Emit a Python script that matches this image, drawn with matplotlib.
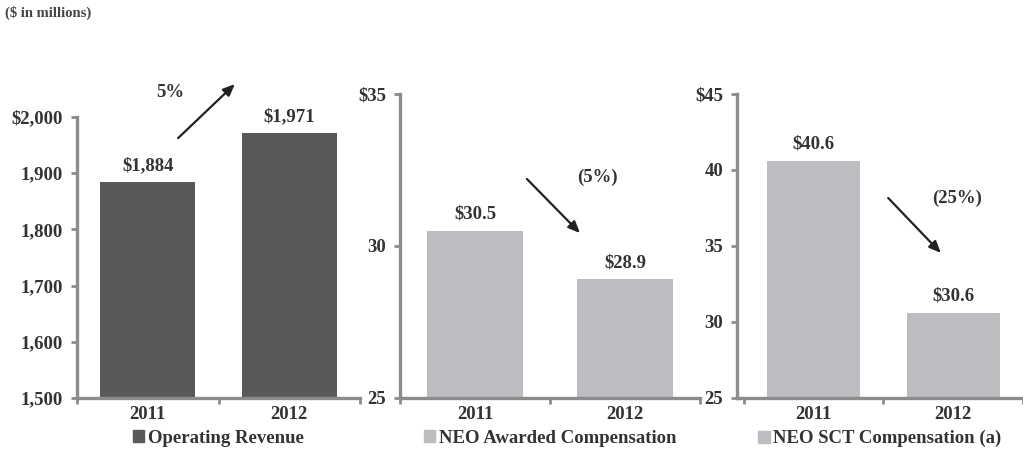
import matplotlib
matplotlib.use("Agg")
import matplotlib.pyplot as plt
from matplotlib.patches import Patch

# Data
years = ["2011", "2012"]
revenue = [1884, 1971]
awarded = [30.5, 28.9]
sct = [40.6, 30.6]

revenue_labels = ["$1,884", "$1,971"]
awarded_labels = ["$30.5", "$28.9"]
sct_labels = ["$40.6", "$30.6"]

revenue_ticks = [1500, 1600, 1700, 1800, 1900, 2000]
revenue_ticklabels = ["1,500", "1,600", "1,700", "1,800", "1,900", "$2,000"]
awarded_ticks = [25, 30, 35]
awarded_ticklabels = ["25", "30", "$35"]
sct_ticks = [25, 30, 35, 40, 45]
sct_ticklabels = ["25", "30", "35", "40", "$45"]

legend_names = ["Operating Revenue", "NEO Awarded Compensation", "NEO SCT Compensation (a)"]
changes = ["5%", "(5%)", "(25%)"]

dark = "#58595b"
light = "#bcbdc0"
axis_grey = "#8c8c8c"
txt = "#333333"
fs = 13.5

plt.rcParams["font.family"] = ["Liberation Serif", "DejaVu Serif"]
plt.rcParams["font.weight"] = "bold"

W, H = 1023, 457
fig = plt.figure(figsize=(W / 100, H / 100), dpi=100)


def make_axes(left_px, right_px, top_px, bottom_px=398):
    return fig.add_axes([left_px / W, 1 - bottom_px / H,
                         (right_px - left_px) / W, (bottom_px - top_px) / H])


def style(ax, values, labels, color, ticks, ticklabels, ylim, xlim, width, legend):
    x = [0, 1]
    ax.bar(x, values, width=width, color=color, zorder=2)
    for xi, v, lab in zip(x, values, labels):
        ax.annotate(lab, (xi, v), xytext=(0, 6), textcoords="offset points",
                    ha="center", va="bottom", fontsize=fs, color=txt, fontweight="bold")
    ax.set_ylim(*ylim)
    ax.set_xlim(*xlim)
    ax.set_yticks(ticks)
    ax.set_yticklabels(ticklabels, fontsize=fs, color=txt, fontweight="bold")
    ax.set_xticks(x)
    ax.set_xticklabels(years, fontsize=fs, color=txt, fontweight="bold")
    ax.set_xticks([-0.5, 0.5, 1.5], minor=True)
    ax.tick_params(axis="x", which="major", length=0, pad=6)
    ax.tick_params(axis="x", which="minor", length=4, width=2, color=axis_grey, direction="out")
    ax.tick_params(axis="y", length=4, width=2, color=axis_grey, pad=6)
    for s in ["top", "right"]:
        ax.spines[s].set_visible(False)
    for s in ["left", "bottom"]:
        ax.spines[s].set_color(axis_grey)
        ax.spines[s].set_linewidth(2.4)
    pos = ax.get_position()
    fig.legend(handles=[Patch(color=color)], labels=[legend], loc="upper center",
               bbox_to_anchor=(pos.x0 + pos.width / 2, 1 - 430 / H),
               bbox_transform=fig.transFigure, frameon=False, handlelength=0.6,
               handleheight=0.6, handletextpad=0.2, borderaxespad=0, borderpad=0,
               prop={"size": fs, "weight": "bold"}, labelcolor=txt)


def arrow(ax, start, end, text, text_pos):
    ax.annotate("", xy=end, xytext=start, annotation_clip=False,
                arrowprops=dict(arrowstyle="-|>,head_length=0.7,head_width=0.3",
                                color="#222222", lw=1.6))
    ax.text(*text_pos, text, ha="center", va="center", fontsize=fs,
            color=txt, fontweight="bold", clip_on=False)


ax1 = make_axes(77, 360, 117)
style(ax1, revenue, revenue_labels, dark, revenue_ticks, revenue_ticklabels,
      (1500, 2000), (-0.5, 1.5), 0.67, legend_names[0])
arrow(ax1, (0.2, 1959), (0.63, 2062), changes[0], (0.157, 2044))

ax2 = make_axes(400, 700, 94)
style(ax2, awarded, awarded_labels, light, awarded_ticks, awarded_ticklabels,
      (25, 35), (-0.5, 1.5), 0.64, legend_names[1])
arrow(ax2, (0.333, 32.27), (0.713, 30.36), changes[1], (0.813, 32.27))

ax3 = make_axes(737, 1023, 94)
style(ax3, sct, sct_labels, light, sct_ticks, sct_ticklabels,
      (25, 45), (-0.55, 1.45), 0.67, legend_names[2])
arrow(ax3, (0.52, 38.29), (0.925, 34.41), changes[2], (1.03, 38.16))

fig.text(5 / W, 1 - 13 / H, "($ in millions)", fontsize=10.5, color="#444444",
         fontweight="bold", va="center", ha="left")

fig.savefig("out.png", dpi=100)
